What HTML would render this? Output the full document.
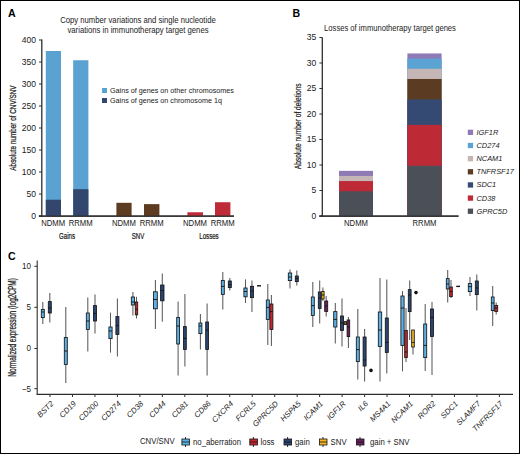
<!DOCTYPE html>
<html><head><meta charset="utf-8"><style>
html,body{margin:0;padding:0;background:#fff;}
body{width:520px;height:454px;overflow:hidden;position:relative;}
svg{position:absolute;left:0;top:0;display:block;}
text{font-family:"Liberation Sans", sans-serif;fill:#1a1a1a;}
</style></head><body>
<svg width="520" height="454" viewBox="0 0 520 454">
<rect x="0" y="0" width="520" height="454" fill="#fff"/>

<text x="8" y="17" style="font-size:10.6px;font-weight:bold;fill:#000">A</text>
<text x="292.6" y="17" style="font-size:10.6px;font-weight:bold;fill:#000">B</text>
<text x="8" y="260.4" style="font-size:10.6px;font-weight:bold;fill:#000">C</text>
<text transform="translate(138,22.9) scale(0.9259,1)" text-anchor="middle" style="font-size:8.32px;">Copy number variations and single nucleotide</text>
<text transform="translate(138,32.8) scale(0.9259,1)" text-anchor="middle" style="font-size:8.32px;">variations in immunotherapy target genes</text>
<line x1="41.8" y1="39.5" x2="41.8" y2="216.7" stroke="#2e2e2e" stroke-width="1.3"/>
<line x1="38.9" y1="216.1" x2="234" y2="216.1" stroke="#2e2e2e" stroke-width="1.3"/>
<line x1="39" y1="216.00" x2="42" y2="216.00" stroke="#2e2e2e" stroke-width="1"/>
<text transform="translate(36,218.90) scale(1.03,1)" text-anchor="end" style="font-size:8.3px">0</text>
<line x1="39" y1="194.00" x2="42" y2="194.00" stroke="#2e2e2e" stroke-width="1"/>
<text transform="translate(36,196.90) scale(1.03,1)" text-anchor="end" style="font-size:8.3px">50</text>
<line x1="39" y1="172.00" x2="42" y2="172.00" stroke="#2e2e2e" stroke-width="1"/>
<text transform="translate(36,174.90) scale(1.03,1)" text-anchor="end" style="font-size:8.3px">100</text>
<line x1="39" y1="150.00" x2="42" y2="150.00" stroke="#2e2e2e" stroke-width="1"/>
<text transform="translate(36,152.90) scale(1.03,1)" text-anchor="end" style="font-size:8.3px">150</text>
<line x1="39" y1="128.00" x2="42" y2="128.00" stroke="#2e2e2e" stroke-width="1"/>
<text transform="translate(36,130.90) scale(1.03,1)" text-anchor="end" style="font-size:8.3px">200</text>
<line x1="39" y1="106.00" x2="42" y2="106.00" stroke="#2e2e2e" stroke-width="1"/>
<text transform="translate(36,108.90) scale(1.03,1)" text-anchor="end" style="font-size:8.3px">250</text>
<line x1="39" y1="84.00" x2="42" y2="84.00" stroke="#2e2e2e" stroke-width="1"/>
<text transform="translate(36,86.90) scale(1.03,1)" text-anchor="end" style="font-size:8.3px">300</text>
<line x1="39" y1="62.00" x2="42" y2="62.00" stroke="#2e2e2e" stroke-width="1"/>
<text transform="translate(36,64.90) scale(1.03,1)" text-anchor="end" style="font-size:8.3px">350</text>
<line x1="39" y1="40.00" x2="42" y2="40.00" stroke="#2e2e2e" stroke-width="1"/>
<text transform="translate(36,42.90) scale(1.03,1)" text-anchor="end" style="font-size:8.3px">400</text>
<rect x="45.8" y="51.00" width="15.20" height="165.00" fill="#5aa2d1"/>
<rect x="45.8" y="199.72" width="15.20" height="16.28" fill="#33476e"/>
<rect x="73.2" y="60.24" width="15.20" height="155.76" fill="#5aa2d1"/>
<rect x="73.2" y="189.16" width="15.20" height="26.84" fill="#33476e"/>
<rect x="116.4" y="202.80" width="15.20" height="13.20" fill="#5c3b20"/>
<rect x="144" y="204.12" width="15.40" height="11.88" fill="#5c3b20"/>
<rect x="187.4" y="212.26" width="15.60" height="3.74" fill="#be2a37"/>
<rect x="215" y="202.23" width="15.40" height="13.77" fill="#be2a37"/>
<line x1="38.9" y1="216.1" x2="234" y2="216.1" stroke="#2e2e2e" stroke-width="1.3"/>
<text transform="translate(53.2,226.0) scale(0.9259,1)" text-anchor="middle" style="font-size:8.32px;">NDMM</text>
<text transform="translate(80.7,226.0) scale(0.9259,1)" text-anchor="middle" style="font-size:8.32px;">RRMM</text>
<text transform="translate(123.9,226.0) scale(0.9259,1)" text-anchor="middle" style="font-size:8.32px;">NDMM</text>
<text transform="translate(151.7,226.0) scale(0.9259,1)" text-anchor="middle" style="font-size:8.32px;">RRMM</text>
<text transform="translate(195,226.0) scale(0.9259,1)" text-anchor="middle" style="font-size:8.32px;">NDMM</text>
<text transform="translate(222.6,226.0) scale(0.9259,1)" text-anchor="middle" style="font-size:8.32px;">RRMM</text>
<text transform="translate(67,239) scale(0.63,1)" x="0" y="0" text-anchor="middle" style="font-size:9.7px;stroke:#1a1a1a;stroke-width:0.25px">Gains</text>
<text transform="translate(138,239) scale(0.63,1)" x="0" y="0" text-anchor="middle" style="font-size:9.7px;stroke:#1a1a1a;stroke-width:0.25px">SNV</text>
<text transform="translate(209,239) scale(0.63,1)" x="0" y="0" text-anchor="middle" style="font-size:9.7px;stroke:#1a1a1a;stroke-width:0.25px">Losses</text>
<text transform="translate(15.9,128.05) rotate(-90) scale(0.64,1)" x="0" y="0" text-anchor="middle" style="font-size:9.95px;stroke:#1a1a1a;stroke-width:0.25px">Absolute number of CNV/SNV</text>
<rect x="102" y="88" width="5" height="5" fill="#5aa2d1"/>
<rect x="102" y="98" width="5" height="5" fill="#33476e"/>
<text transform="translate(110,93.2) scale(0.9259,1)" text-anchor="start" style="font-size:7.78px;">Gains of genes on other chromosomes</text>
<text transform="translate(110,103.2) scale(0.9259,1)" text-anchor="start" style="font-size:7.78px;">Gains of genes on chromosome 1q</text>
<text transform="translate(390,30.9) scale(0.9259,1)" text-anchor="middle" style="font-size:8.26px;">Losses of immunotherapy target genes</text>
<line x1="322.3" y1="37.6" x2="322.3" y2="216.7" stroke="#2e2e2e" stroke-width="1.3"/>
<line x1="319.4" y1="216.1" x2="458.5" y2="216.1" stroke="#2e2e2e" stroke-width="1.3"/>
<line x1="319.4" y1="216.00" x2="322.4" y2="216.00" stroke="#2e2e2e" stroke-width="1"/>
<text transform="translate(316.2,218.90) scale(1.03,1)" text-anchor="end" style="font-size:8.3px">0</text>
<line x1="319.4" y1="190.50" x2="322.4" y2="190.50" stroke="#2e2e2e" stroke-width="1"/>
<text transform="translate(316.2,193.40) scale(1.03,1)" text-anchor="end" style="font-size:8.3px">5</text>
<line x1="319.4" y1="165.00" x2="322.4" y2="165.00" stroke="#2e2e2e" stroke-width="1"/>
<text transform="translate(316.2,167.90) scale(1.03,1)" text-anchor="end" style="font-size:8.3px">10</text>
<line x1="319.4" y1="139.50" x2="322.4" y2="139.50" stroke="#2e2e2e" stroke-width="1"/>
<text transform="translate(316.2,142.40) scale(1.03,1)" text-anchor="end" style="font-size:8.3px">15</text>
<line x1="319.4" y1="114.00" x2="322.4" y2="114.00" stroke="#2e2e2e" stroke-width="1"/>
<text transform="translate(316.2,116.90) scale(1.03,1)" text-anchor="end" style="font-size:8.3px">20</text>
<line x1="319.4" y1="88.50" x2="322.4" y2="88.50" stroke="#2e2e2e" stroke-width="1"/>
<text transform="translate(316.2,91.40) scale(1.03,1)" text-anchor="end" style="font-size:8.3px">25</text>
<line x1="319.4" y1="63.00" x2="322.4" y2="63.00" stroke="#2e2e2e" stroke-width="1"/>
<text transform="translate(316.2,65.90) scale(1.03,1)" text-anchor="end" style="font-size:8.3px">30</text>
<line x1="319.4" y1="37.50" x2="322.4" y2="37.50" stroke="#2e2e2e" stroke-width="1"/>
<text transform="translate(316.2,40.40) scale(1.03,1)" text-anchor="end" style="font-size:8.3px">35</text>
<rect x="339" y="170.86" width="34.00" height="45.94" fill="#8e7bb6"/>
<rect x="339" y="175.96" width="34.00" height="40.84" fill="#c3b6b4"/>
<rect x="339" y="181.06" width="34.00" height="35.74" fill="#bd2a36"/>
<rect x="339" y="191.28" width="34.00" height="25.53" fill="#4a4f58"/>
<rect x="407.4" y="53.44" width="34.20" height="163.36" fill="#8e7bb6"/>
<rect x="407.4" y="58.54" width="34.20" height="158.26" fill="#5aa3d3"/>
<rect x="407.4" y="68.75" width="34.20" height="148.05" fill="#c3b6b4"/>
<rect x="407.4" y="78.97" width="34.20" height="137.84" fill="#5b3b21"/>
<rect x="407.4" y="99.39" width="34.20" height="117.42" fill="#344a72"/>
<rect x="407.4" y="124.91" width="34.20" height="91.89" fill="#bd2a36"/>
<rect x="407.4" y="165.75" width="34.20" height="51.05" fill="#4a4f58"/>
<line x1="319.4" y1="216.1" x2="458.5" y2="216.1" stroke="#2e2e2e" stroke-width="1.3"/>
<text transform="translate(356,226.0) scale(0.9259,1)" text-anchor="middle" style="font-size:8.32px;">NDMM</text>
<text transform="translate(424.5,226.0) scale(0.9259,1)" text-anchor="middle" style="font-size:8.32px;">RRMM</text>
<text transform="translate(300.5,126.3) rotate(-90) scale(0.75,1)" x="0" y="0" text-anchor="middle" style="font-size:8.85px;stroke:#1a1a1a;stroke-width:0.2px">Absolute number of deletions</text>
<rect x="467.8" y="129.70" width="5.3" height="5.3" fill="#8e7bb6"/>
<text transform="translate(476.5,134.8) scale(0.9259,1)" text-anchor="start" style="font-size:7.99px;font-style:italic">IGF1R</text>
<rect x="467.8" y="142.85" width="5.3" height="5.3" fill="#5aa3d3"/>
<text transform="translate(476.5,147.95) scale(0.9259,1)" text-anchor="start" style="font-size:7.99px;font-style:italic">CD274</text>
<rect x="467.8" y="156.00" width="5.3" height="5.3" fill="#c3b6b4"/>
<text transform="translate(476.5,161.1) scale(0.9259,1)" text-anchor="start" style="font-size:7.99px;font-style:italic">NCAM1</text>
<rect x="467.8" y="169.15" width="5.3" height="5.3" fill="#5b3b21"/>
<text transform="translate(476.5,174.25) scale(0.9259,1)" text-anchor="start" style="font-size:7.99px;font-style:italic">TNFRSF17</text>
<rect x="467.8" y="182.30" width="5.3" height="5.3" fill="#344a72"/>
<text transform="translate(476.5,187.4) scale(0.9259,1)" text-anchor="start" style="font-size:7.99px;font-style:italic">SDC1</text>
<rect x="467.8" y="195.45" width="5.3" height="5.3" fill="#bd2a36"/>
<text transform="translate(476.5,200.55) scale(0.9259,1)" text-anchor="start" style="font-size:7.99px;font-style:italic">CD38</text>
<rect x="467.8" y="208.60" width="5.3" height="5.3" fill="#4a4f58"/>
<text transform="translate(476.5,213.7) scale(0.9259,1)" text-anchor="start" style="font-size:7.99px;font-style:italic">GPRC5D</text>
<line x1="37.2" y1="260.6" x2="37.2" y2="394.4" stroke="#2e2e2e" stroke-width="1.1"/>
<line x1="36.6" y1="394.4" x2="513" y2="394.4" stroke="#2e2e2e" stroke-width="1.1"/>
<line x1="34.3" y1="266.30" x2="37.2" y2="266.30" stroke="#2e2e2e" stroke-width="1"/>
<text transform="translate(31,269.10) scale(0.93,1)" text-anchor="end" style="font-size:8.7px">10</text>
<line x1="34.3" y1="307.30" x2="37.2" y2="307.30" stroke="#2e2e2e" stroke-width="1"/>
<text transform="translate(31,310.10) scale(0.93,1)" text-anchor="end" style="font-size:8.7px">5</text>
<line x1="34.3" y1="348.50" x2="37.2" y2="348.50" stroke="#2e2e2e" stroke-width="1"/>
<text transform="translate(31,351.30) scale(0.93,1)" text-anchor="end" style="font-size:8.7px">0</text>
<line x1="34.3" y1="388.70" x2="37.2" y2="388.70" stroke="#2e2e2e" stroke-width="1"/>
<text transform="translate(31,391.50) scale(0.93,1)" text-anchor="end" style="font-size:8.7px">−5</text>
<text transform="translate(16.3,327.4) rotate(-90) scale(0.645,1)" x="0" y="0" text-anchor="middle" style="font-size:10.05px;stroke:#1a1a1a;stroke-width:0.25px">Normalized expression (log2CPM)</text>
<line x1="50.00" y1="394.4" x2="50.00" y2="397" stroke="#2e2e2e" stroke-width="1"/>
<text transform="translate(50.00,400.6) rotate(-45)" x="0.3" y="5.4" text-anchor="end" style="font-size:7.8px;font-style:italic">BST2</text>
<line x1="72.47" y1="394.4" x2="72.47" y2="397" stroke="#2e2e2e" stroke-width="1"/>
<text transform="translate(72.47,400.6) rotate(-45)" x="0.3" y="5.4" text-anchor="end" style="font-size:7.8px;font-style:italic">CD19</text>
<line x1="94.94" y1="394.4" x2="94.94" y2="397" stroke="#2e2e2e" stroke-width="1"/>
<text transform="translate(94.94,400.6) rotate(-45)" x="0.3" y="5.4" text-anchor="end" style="font-size:7.8px;font-style:italic">CD200</text>
<line x1="117.41" y1="394.4" x2="117.41" y2="397" stroke="#2e2e2e" stroke-width="1"/>
<text transform="translate(117.41,400.6) rotate(-45)" x="0.3" y="5.4" text-anchor="end" style="font-size:7.8px;font-style:italic">CD274</text>
<line x1="139.88" y1="394.4" x2="139.88" y2="397" stroke="#2e2e2e" stroke-width="1"/>
<text transform="translate(139.88,400.6) rotate(-45)" x="0.3" y="5.4" text-anchor="end" style="font-size:7.8px;font-style:italic">CD38</text>
<line x1="162.35" y1="394.4" x2="162.35" y2="397" stroke="#2e2e2e" stroke-width="1"/>
<text transform="translate(162.35,400.6) rotate(-45)" x="0.3" y="5.4" text-anchor="end" style="font-size:7.8px;font-style:italic">CD44</text>
<line x1="184.82" y1="394.4" x2="184.82" y2="397" stroke="#2e2e2e" stroke-width="1"/>
<text transform="translate(184.82,400.6) rotate(-45)" x="0.3" y="5.4" text-anchor="end" style="font-size:7.8px;font-style:italic">CD81</text>
<line x1="207.29" y1="394.4" x2="207.29" y2="397" stroke="#2e2e2e" stroke-width="1"/>
<text transform="translate(207.29,400.6) rotate(-45)" x="0.3" y="5.4" text-anchor="end" style="font-size:7.8px;font-style:italic">CD86</text>
<line x1="229.76" y1="394.4" x2="229.76" y2="397" stroke="#2e2e2e" stroke-width="1"/>
<text transform="translate(229.76,400.6) rotate(-45)" x="0.3" y="5.4" text-anchor="end" style="font-size:7.8px;font-style:italic">CXCR4</text>
<line x1="252.23" y1="394.4" x2="252.23" y2="397" stroke="#2e2e2e" stroke-width="1"/>
<text transform="translate(252.23,400.6) rotate(-45)" x="0.3" y="5.4" text-anchor="end" style="font-size:7.8px;font-style:italic">FCRL5</text>
<line x1="274.70" y1="394.4" x2="274.70" y2="397" stroke="#2e2e2e" stroke-width="1"/>
<text transform="translate(274.70,400.6) rotate(-45)" x="0.3" y="5.4" text-anchor="end" style="font-size:7.8px;font-style:italic">GPRC5D</text>
<line x1="297.17" y1="394.4" x2="297.17" y2="397" stroke="#2e2e2e" stroke-width="1"/>
<text transform="translate(297.17,400.6) rotate(-45)" x="0.3" y="5.4" text-anchor="end" style="font-size:7.8px;font-style:italic">HSPA5</text>
<line x1="319.64" y1="394.4" x2="319.64" y2="397" stroke="#2e2e2e" stroke-width="1"/>
<text transform="translate(319.64,400.6) rotate(-45)" x="0.3" y="5.4" text-anchor="end" style="font-size:7.8px;font-style:italic">ICAM1</text>
<line x1="342.11" y1="394.4" x2="342.11" y2="397" stroke="#2e2e2e" stroke-width="1"/>
<text transform="translate(342.11,400.6) rotate(-45)" x="0.3" y="5.4" text-anchor="end" style="font-size:7.8px;font-style:italic">IGF1R</text>
<line x1="364.58" y1="394.4" x2="364.58" y2="397" stroke="#2e2e2e" stroke-width="1"/>
<text transform="translate(364.58,400.6) rotate(-45)" x="0.3" y="5.4" text-anchor="end" style="font-size:7.8px;font-style:italic">IL6</text>
<line x1="387.05" y1="394.4" x2="387.05" y2="397" stroke="#2e2e2e" stroke-width="1"/>
<text transform="translate(387.05,400.6) rotate(-45)" x="0.3" y="5.4" text-anchor="end" style="font-size:7.8px;font-style:italic">MS4A1</text>
<line x1="409.52" y1="394.4" x2="409.52" y2="397" stroke="#2e2e2e" stroke-width="1"/>
<text transform="translate(409.52,400.6) rotate(-45)" x="0.3" y="5.4" text-anchor="end" style="font-size:7.8px;font-style:italic">NCAM1</text>
<line x1="431.99" y1="394.4" x2="431.99" y2="397" stroke="#2e2e2e" stroke-width="1"/>
<text transform="translate(431.99,400.6) rotate(-45)" x="0.3" y="5.4" text-anchor="end" style="font-size:7.8px;font-style:italic">ROR2</text>
<line x1="454.46" y1="394.4" x2="454.46" y2="397" stroke="#2e2e2e" stroke-width="1"/>
<text transform="translate(454.46,400.6) rotate(-45)" x="0.3" y="5.4" text-anchor="end" style="font-size:7.8px;font-style:italic">SDC1</text>
<line x1="476.93" y1="394.4" x2="476.93" y2="397" stroke="#2e2e2e" stroke-width="1"/>
<text transform="translate(476.93,400.6) rotate(-45)" x="0.3" y="5.4" text-anchor="end" style="font-size:7.8px;font-style:italic">SLAMF7</text>
<line x1="499.40" y1="394.4" x2="499.40" y2="397" stroke="#2e2e2e" stroke-width="1"/>
<text transform="translate(499.40,400.6) rotate(-45)" x="0.3" y="5.4" text-anchor="end" style="font-size:7.8px;font-style:italic">TNFRSF17</text>
<line x1="42.80" y1="302" x2="42.80" y2="324" stroke="#5a5a5a" stroke-width="1.05"/>
<rect x="41.30" y="309.4" width="3.00" height="8.20" fill="#5cb2e5" stroke="#151515" stroke-width="0.85"/>
<line x1="41.30" y1="312" x2="44.30" y2="312" stroke="#151515" stroke-width="0.95"/>
<line x1="49.80" y1="293" x2="49.80" y2="322.6" stroke="#5a5a5a" stroke-width="1.05"/>
<rect x="48.30" y="301.6" width="3.00" height="11.40" fill="#2b4573" stroke="#151515" stroke-width="0.85"/>
<line x1="48.30" y1="308" x2="51.30" y2="308" stroke="#151515" stroke-width="0.95"/>
<line x1="65.80" y1="307" x2="65.80" y2="383" stroke="#5a5a5a" stroke-width="1.05"/>
<rect x="64.30" y="337.4" width="3.00" height="27.00" fill="#5cb2e5" stroke="#151515" stroke-width="0.85"/>
<line x1="64.30" y1="351" x2="67.30" y2="351" stroke="#151515" stroke-width="0.95"/>
<line x1="87.80" y1="297.6" x2="87.80" y2="351.6" stroke="#5a5a5a" stroke-width="1.05"/>
<rect x="86.30" y="313" width="3.00" height="16.40" fill="#5cb2e5" stroke="#151515" stroke-width="0.85"/>
<line x1="86.30" y1="321" x2="89.30" y2="321" stroke="#151515" stroke-width="0.95"/>
<line x1="95.00" y1="294.6" x2="95.00" y2="333.4" stroke="#5a5a5a" stroke-width="1.05"/>
<rect x="93.50" y="305.6" width="3.00" height="15.40" fill="#2b4573" stroke="#151515" stroke-width="0.85"/>
<line x1="93.50" y1="313.4" x2="96.50" y2="313.4" stroke="#151515" stroke-width="0.95"/>
<line x1="110.50" y1="312.6" x2="110.50" y2="352.6" stroke="#5a5a5a" stroke-width="1.05"/>
<rect x="108.90" y="327" width="3.20" height="11.60" fill="#5cb2e5" stroke="#151515" stroke-width="0.85"/>
<line x1="108.90" y1="331" x2="112.10" y2="331" stroke="#151515" stroke-width="0.95"/>
<line x1="117.40" y1="298.4" x2="117.40" y2="356.4" stroke="#5a5a5a" stroke-width="1.05"/>
<rect x="115.90" y="316.6" width="3.00" height="17.80" fill="#2b4573" stroke="#151515" stroke-width="0.85"/>
<line x1="115.90" y1="325.6" x2="118.90" y2="325.6" stroke="#151515" stroke-width="0.95"/>
<line x1="132.90" y1="292" x2="132.90" y2="315.5" stroke="#5a5a5a" stroke-width="1.05"/>
<rect x="131.30" y="297" width="3.20" height="8.00" fill="#5cb2e5" stroke="#151515" stroke-width="0.85"/>
<line x1="131.30" y1="302" x2="134.50" y2="302" stroke="#151515" stroke-width="0.95"/>
<line x1="136.50" y1="296.8" x2="136.50" y2="318.5" stroke="#5a5a5a" stroke-width="1.05"/>
<rect x="135.30" y="302" width="2.40" height="12.80" fill="#c8252f" stroke="#151515" stroke-width="0.85"/>
<line x1="135.30" y1="309.3" x2="137.70" y2="309.3" stroke="#151515" stroke-width="0.95"/>
<line x1="155.40" y1="280" x2="155.40" y2="329" stroke="#5a5a5a" stroke-width="1.05"/>
<rect x="153.50" y="291.8" width="3.80" height="17.00" fill="#5cb2e5" stroke="#151515" stroke-width="0.85"/>
<line x1="153.50" y1="299.5" x2="157.30" y2="299.5" stroke="#151515" stroke-width="0.95"/>
<line x1="162.30" y1="273.6" x2="162.30" y2="321.8" stroke="#5a5a5a" stroke-width="1.05"/>
<rect x="160.60" y="285" width="3.40" height="15.80" fill="#2b4573" stroke="#151515" stroke-width="0.85"/>
<line x1="160.60" y1="290.5" x2="164.00" y2="290.5" stroke="#151515" stroke-width="0.95"/>
<line x1="178.10" y1="301.4" x2="178.10" y2="375.6" stroke="#5a5a5a" stroke-width="1.05"/>
<rect x="176.70" y="317.4" width="2.80" height="26.60" fill="#5cb2e5" stroke="#151515" stroke-width="0.85"/>
<line x1="176.70" y1="326" x2="179.50" y2="326" stroke="#151515" stroke-width="0.95"/>
<line x1="184.90" y1="294" x2="184.90" y2="366.4" stroke="#5a5a5a" stroke-width="1.05"/>
<rect x="183.50" y="326.6" width="2.80" height="22.80" fill="#2b4573" stroke="#151515" stroke-width="0.85"/>
<line x1="183.50" y1="338.4" x2="186.30" y2="338.4" stroke="#151515" stroke-width="0.95"/>
<line x1="200.40" y1="314" x2="200.40" y2="349.6" stroke="#5a5a5a" stroke-width="1.05"/>
<rect x="198.90" y="323" width="3.00" height="10.60" fill="#5cb2e5" stroke="#151515" stroke-width="0.85"/>
<line x1="198.90" y1="326" x2="201.90" y2="326" stroke="#151515" stroke-width="0.95"/>
<line x1="207.10" y1="303.4" x2="207.10" y2="375.6" stroke="#5a5a5a" stroke-width="1.05"/>
<rect x="205.70" y="322" width="2.80" height="27.40" fill="#2b4573" stroke="#151515" stroke-width="0.85"/>
<line x1="205.70" y1="330" x2="208.50" y2="330" stroke="#151515" stroke-width="0.95"/>
<line x1="222.80" y1="272" x2="222.80" y2="309.4" stroke="#5a5a5a" stroke-width="1.05"/>
<rect x="221.30" y="280.4" width="3.00" height="14.00" fill="#5cb2e5" stroke="#151515" stroke-width="0.85"/>
<line x1="221.30" y1="286.4" x2="224.30" y2="286.4" stroke="#151515" stroke-width="0.95"/>
<line x1="229.80" y1="278" x2="229.80" y2="290.6" stroke="#5a5a5a" stroke-width="1.05"/>
<rect x="228.30" y="281" width="3.00" height="6.60" fill="#2b4573" stroke="#151515" stroke-width="0.85"/>
<line x1="228.30" y1="284.6" x2="231.30" y2="284.6" stroke="#151515" stroke-width="0.95"/>
<line x1="245.50" y1="279.4" x2="245.50" y2="303" stroke="#5a5a5a" stroke-width="1.05"/>
<rect x="243.90" y="288" width="3.20" height="8.80" fill="#5cb2e5" stroke="#151515" stroke-width="0.85"/>
<line x1="243.90" y1="291.5" x2="247.10" y2="291.5" stroke="#151515" stroke-width="0.95"/>
<line x1="251.95" y1="280.6" x2="251.95" y2="312" stroke="#5a5a5a" stroke-width="1.05"/>
<rect x="250.40" y="286.3" width="3.10" height="11.30" fill="#2b4573" stroke="#151515" stroke-width="0.85"/>
<line x1="250.40" y1="291" x2="253.50" y2="291" stroke="#151515" stroke-width="0.95"/>
<line x1="257" y1="285.8" x2="261" y2="285.8" stroke="#151515" stroke-width="1.4"/>
<line x1="267.80" y1="284" x2="267.80" y2="345" stroke="#5a5a5a" stroke-width="1.05"/>
<rect x="266.30" y="300" width="3.00" height="19.40" fill="#5cb2e5" stroke="#151515" stroke-width="0.85"/>
<line x1="266.30" y1="307.4" x2="269.30" y2="307.4" stroke="#151515" stroke-width="0.95"/>
<line x1="271.40" y1="295" x2="271.40" y2="346" stroke="#5a5a5a" stroke-width="1.05"/>
<rect x="269.90" y="304" width="3.00" height="25.40" fill="#c8252f" stroke="#151515" stroke-width="0.85"/>
<line x1="269.90" y1="311.6" x2="272.90" y2="311.6" stroke="#151515" stroke-width="0.95"/>
<line x1="290.00" y1="269.4" x2="290.00" y2="288.6" stroke="#5a5a5a" stroke-width="1.05"/>
<rect x="288.30" y="273" width="3.40" height="7.60" fill="#5cb2e5" stroke="#151515" stroke-width="0.85"/>
<line x1="288.30" y1="277" x2="291.70" y2="277" stroke="#151515" stroke-width="0.95"/>
<line x1="296.80" y1="270.6" x2="296.80" y2="285.6" stroke="#5a5a5a" stroke-width="1.05"/>
<rect x="295.30" y="276" width="3.00" height="5.60" fill="#2b4573" stroke="#151515" stroke-width="0.85"/>
<line x1="295.30" y1="278.6" x2="298.30" y2="278.6" stroke="#151515" stroke-width="0.95"/>
<line x1="312.80" y1="282" x2="312.80" y2="327" stroke="#5a5a5a" stroke-width="1.05"/>
<rect x="311.30" y="297" width="3.00" height="18.40" fill="#5cb2e5" stroke="#151515" stroke-width="0.85"/>
<line x1="311.30" y1="305.6" x2="314.30" y2="305.6" stroke="#151515" stroke-width="0.95"/>
<line x1="319.70" y1="280.6" x2="319.70" y2="323.6" stroke="#5a5a5a" stroke-width="1.05"/>
<rect x="318.30" y="292" width="2.80" height="16.40" fill="#2b4573" stroke="#151515" stroke-width="0.85"/>
<line x1="318.30" y1="298" x2="321.10" y2="298" stroke="#151515" stroke-width="0.95"/>
<line x1="322.90" y1="287.4" x2="322.90" y2="301" stroke="#5a5a5a" stroke-width="1.05"/>
<rect x="321.70" y="291.4" width="2.40" height="7.60" fill="#f4b525" stroke="#151515" stroke-width="0.85"/>
<line x1="321.70" y1="295" x2="324.10" y2="295" stroke="#151515" stroke-width="0.95"/>
<line x1="326.20" y1="296" x2="326.20" y2="316.6" stroke="#5a5a5a" stroke-width="1.05"/>
<rect x="324.70" y="301" width="3.00" height="10.40" fill="#6a1f5c" stroke="#151515" stroke-width="0.85"/>
<line x1="324.70" y1="306" x2="327.70" y2="306" stroke="#151515" stroke-width="0.95"/>
<line x1="335.30" y1="303" x2="335.30" y2="343.6" stroke="#5a5a5a" stroke-width="1.05"/>
<rect x="333.70" y="311.6" width="3.20" height="15.40" fill="#5cb2e5" stroke="#151515" stroke-width="0.85"/>
<line x1="333.70" y1="319.4" x2="336.90" y2="319.4" stroke="#151515" stroke-width="0.95"/>
<line x1="342.00" y1="298.6" x2="342.00" y2="346.4" stroke="#5a5a5a" stroke-width="1.05"/>
<rect x="340.50" y="316" width="3.00" height="14.40" fill="#2b4573" stroke="#151515" stroke-width="0.85"/>
<line x1="340.50" y1="323" x2="343.50" y2="323" stroke="#151515" stroke-width="0.95"/>
<line x1="345.30" y1="321" x2="345.30" y2="325" stroke="#5a5a5a" stroke-width="1.05"/>
<rect x="344.10" y="321.6" width="2.40" height="3.00" fill="#f4b525" stroke="#151515" stroke-width="0.85"/>
<line x1="344.10" y1="323" x2="346.50" y2="323" stroke="#151515" stroke-width="0.95"/>
<line x1="348.40" y1="317" x2="348.40" y2="348" stroke="#5a5a5a" stroke-width="1.05"/>
<rect x="347.10" y="320" width="2.60" height="16.60" fill="#6a1f5c" stroke="#151515" stroke-width="0.85"/>
<line x1="347.10" y1="327" x2="349.70" y2="327" stroke="#151515" stroke-width="0.95"/>
<line x1="357.80" y1="309" x2="357.80" y2="379.6" stroke="#5a5a5a" stroke-width="1.05"/>
<rect x="356.30" y="337" width="3.00" height="24.60" fill="#5cb2e5" stroke="#151515" stroke-width="0.85"/>
<line x1="356.30" y1="349.6" x2="359.30" y2="349.6" stroke="#151515" stroke-width="0.95"/>
<line x1="364.60" y1="329" x2="364.60" y2="381.6" stroke="#5a5a5a" stroke-width="1.05"/>
<rect x="363.10" y="337" width="3.00" height="29.00" fill="#2b4573" stroke="#151515" stroke-width="0.85"/>
<line x1="363.10" y1="360" x2="366.10" y2="360" stroke="#151515" stroke-width="0.95"/>
<line x1="380.00" y1="278" x2="380.00" y2="381.6" stroke="#5a5a5a" stroke-width="1.05"/>
<rect x="378.30" y="312" width="3.40" height="34.40" fill="#5cb2e5" stroke="#151515" stroke-width="0.85"/>
<line x1="378.30" y1="330" x2="381.70" y2="330" stroke="#151515" stroke-width="0.95"/>
<line x1="386.80" y1="279.6" x2="386.80" y2="373.6" stroke="#5a5a5a" stroke-width="1.05"/>
<rect x="385.30" y="318" width="3.00" height="34.40" fill="#2b4573" stroke="#151515" stroke-width="0.85"/>
<line x1="385.30" y1="342.4" x2="388.30" y2="342.4" stroke="#151515" stroke-width="0.95"/>
<line x1="402.50" y1="291" x2="402.50" y2="371.4" stroke="#5a5a5a" stroke-width="1.05"/>
<rect x="400.90" y="296" width="3.20" height="49.40" fill="#5cb2e5" stroke="#151515" stroke-width="0.85"/>
<line x1="400.90" y1="308" x2="404.10" y2="308" stroke="#151515" stroke-width="0.95"/>
<line x1="406.00" y1="308" x2="406.00" y2="362" stroke="#5a5a5a" stroke-width="1.05"/>
<rect x="404.70" y="330.4" width="2.60" height="27.20" fill="#c8252f" stroke="#151515" stroke-width="0.85"/>
<line x1="404.70" y1="352" x2="407.30" y2="352" stroke="#151515" stroke-width="0.95"/>
<line x1="409.70" y1="280.6" x2="409.70" y2="340" stroke="#5a5a5a" stroke-width="1.05"/>
<rect x="408.30" y="289.6" width="2.80" height="22.00" fill="#2b4573" stroke="#151515" stroke-width="0.85"/>
<line x1="408.30" y1="295" x2="411.10" y2="295" stroke="#151515" stroke-width="0.95"/>
<line x1="413.00" y1="330" x2="413.00" y2="354.4" stroke="#5a5a5a" stroke-width="1.05"/>
<rect x="411.70" y="330" width="2.60" height="17.00" fill="#f4b525" stroke="#151515" stroke-width="0.85"/>
<line x1="411.70" y1="342.4" x2="414.30" y2="342.4" stroke="#151515" stroke-width="0.95"/>
<line x1="425.20" y1="304" x2="425.20" y2="371" stroke="#5a5a5a" stroke-width="1.05"/>
<rect x="423.70" y="324" width="3.00" height="33.60" fill="#5cb2e5" stroke="#151515" stroke-width="0.85"/>
<line x1="423.70" y1="345.4" x2="426.70" y2="345.4" stroke="#151515" stroke-width="0.95"/>
<line x1="432.00" y1="302" x2="432.00" y2="375" stroke="#5a5a5a" stroke-width="1.05"/>
<rect x="430.50" y="309" width="3.00" height="27.40" fill="#2b4573" stroke="#151515" stroke-width="0.85"/>
<line x1="430.50" y1="317.4" x2="433.50" y2="317.4" stroke="#151515" stroke-width="0.95"/>
<line x1="447.70" y1="270" x2="447.70" y2="302.4" stroke="#5a5a5a" stroke-width="1.05"/>
<rect x="446.30" y="278.6" width="2.80" height="10.40" fill="#5cb2e5" stroke="#151515" stroke-width="0.85"/>
<line x1="446.30" y1="284" x2="449.10" y2="284" stroke="#151515" stroke-width="0.95"/>
<line x1="451.00" y1="280" x2="451.00" y2="298" stroke="#5a5a5a" stroke-width="1.05"/>
<rect x="449.70" y="287" width="2.60" height="9.60" fill="#c8252f" stroke="#151515" stroke-width="0.85"/>
<line x1="449.70" y1="291.6" x2="452.30" y2="291.6" stroke="#151515" stroke-width="0.95"/>
<line x1="456.2" y1="286.4" x2="460" y2="286.4" stroke="#151515" stroke-width="1.4"/>
<line x1="470.00" y1="277" x2="470.00" y2="296" stroke="#5a5a5a" stroke-width="1.05"/>
<rect x="468.30" y="283.6" width="3.40" height="8.00" fill="#5cb2e5" stroke="#151515" stroke-width="0.85"/>
<line x1="468.30" y1="286.6" x2="471.70" y2="286.6" stroke="#151515" stroke-width="0.95"/>
<line x1="476.80" y1="274.6" x2="476.80" y2="310.6" stroke="#5a5a5a" stroke-width="1.05"/>
<rect x="475.30" y="281" width="3.00" height="13.60" fill="#2b4573" stroke="#151515" stroke-width="0.85"/>
<line x1="475.30" y1="288" x2="478.30" y2="288" stroke="#151515" stroke-width="0.95"/>
<line x1="492.70" y1="286" x2="492.70" y2="326" stroke="#5a5a5a" stroke-width="1.05"/>
<rect x="491.30" y="297" width="2.80" height="13.60" fill="#5cb2e5" stroke="#151515" stroke-width="0.85"/>
<line x1="491.30" y1="303" x2="494.10" y2="303" stroke="#151515" stroke-width="0.95"/>
<line x1="496.20" y1="302.4" x2="496.20" y2="314.4" stroke="#5a5a5a" stroke-width="1.05"/>
<rect x="494.70" y="305.4" width="3.00" height="6.00" fill="#c8252f" stroke="#151515" stroke-width="0.85"/>
<line x1="494.70" y1="308" x2="497.70" y2="308" stroke="#151515" stroke-width="0.95"/>
<circle cx="371" cy="370.4" r="1.8" fill="#111"/>
<circle cx="416" cy="292.6" r="1.8" fill="#111"/>
<text transform="translate(140,444.4) scale(0.9259,1)" text-anchor="start" style="font-size:8.42px;">CNV/SNV</text>
<line x1="185.5" y1="437" x2="185.5" y2="447" stroke="#151515" stroke-width="0.9"/>
<rect x="181.9" y="439" width="7.6" height="6" fill="#5cb2e5" stroke="#151515" stroke-width="0.8"/>
<line x1="181.9" y1="442" x2="189.5" y2="442" stroke="#151515" stroke-width="0.8"/>
<text transform="translate(193,444.5) scale(0.9259,1)" text-anchor="start" style="font-size:8.42px;">no_aberration</text>
<line x1="253.4" y1="437" x2="253.4" y2="447" stroke="#151515" stroke-width="0.9"/>
<rect x="249.8" y="439" width="7.6" height="6" fill="#c8252f" stroke="#151515" stroke-width="0.8"/>
<line x1="249.8" y1="442" x2="257.4" y2="442" stroke="#151515" stroke-width="0.8"/>
<text transform="translate(260.6,444.5) scale(0.9259,1)" text-anchor="start" style="font-size:8.42px;">loss</text>
<line x1="287.6" y1="437" x2="287.6" y2="447" stroke="#151515" stroke-width="0.9"/>
<rect x="284.0" y="439" width="7.6" height="6" fill="#2b4573" stroke="#151515" stroke-width="0.8"/>
<line x1="284.0" y1="442" x2="291.6" y2="442" stroke="#151515" stroke-width="0.8"/>
<text transform="translate(295,444.5) scale(0.9259,1)" text-anchor="start" style="font-size:8.42px;">gain</text>
<line x1="323" y1="437" x2="323" y2="447" stroke="#151515" stroke-width="0.9"/>
<rect x="319.4" y="439" width="7.6" height="6" fill="#f4b525" stroke="#151515" stroke-width="0.8"/>
<line x1="319.4" y1="442" x2="327" y2="442" stroke="#151515" stroke-width="0.8"/>
<text transform="translate(330.6,444.5) scale(0.9259,1)" text-anchor="start" style="font-size:8.42px;">SNV</text>
<line x1="360" y1="437" x2="360" y2="447" stroke="#151515" stroke-width="0.9"/>
<rect x="356.4" y="439" width="7.6" height="6" fill="#6a1f5c" stroke="#151515" stroke-width="0.8"/>
<line x1="356.4" y1="442" x2="364" y2="442" stroke="#151515" stroke-width="0.8"/>
<text transform="translate(370,444.5) scale(0.9259,1)" text-anchor="start" style="font-size:8.42px;">gain + SNV</text>
<rect x="0.5" y="0.5" width="519" height="453" fill="none" stroke="#000" stroke-width="1"/>
</svg></body></html>
